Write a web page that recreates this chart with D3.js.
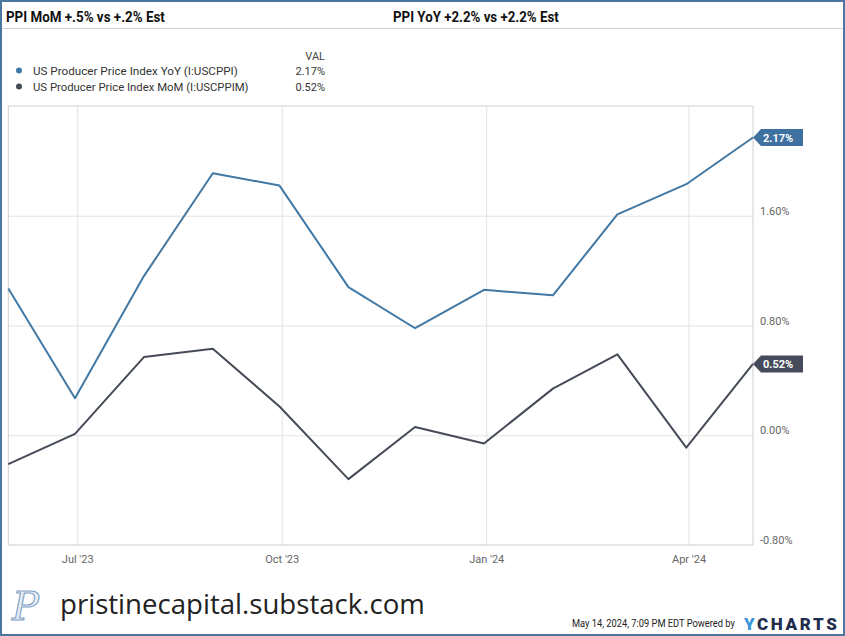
<!DOCTYPE html>
<html><head><meta charset="utf-8">
<script src="https://cdn.jsdelivr.net/npm/d3@7"></script>
<style>
html,body{margin:0;padding:0;background:#fff;}
svg{display:block;font-family:Roboto,"Noto Sans",sans-serif;}
</style></head>
<body>
<svg id="c" width="845" height="636"></svg>
<script>
// ---- data ----
const dates = ["2023-05-31","2023-06-30","2023-07-31","2023-08-31","2023-09-30","2023-10-31",
               "2023-11-30","2023-12-31","2024-01-31","2024-02-29","2024-03-31","2024-04-30"];
const yoyValues = [1.07, 0.27, 1.16, 1.91, 1.82, 1.08, 0.78, 1.06, 1.02, 1.61, 1.83, 2.17];
const momValues = [-0.21, 0.01, 0.57, 0.63, 0.21, -0.32, 0.06, -0.06, 0.34, 0.59, -0.09, 0.52];
const xTickDates = ["2023-07-01","2023-10-01","2024-01-01","2024-04-01"];
const xTickLabels = ["Jul '23","Oct '23","Jan '24","Apr '24"];
const yTicks = [-0.8, 0, 0.8, 1.6];
const yDomain = [-0.8, 2.4];
const seriesNames = ["US Producer Price Index YoY (I:USCPPI)","US Producer Price Index MoM (I:USCPPIM)"];
const titleLeft = "PPI MoM +.5% vs +.2% Est";
const titleRight = "PPI YoY +2.2% vs +2.2% Est";

const parse = d3.utcParse("%Y-%m-%d");
const dts = dates.map(parse);
const colors = ["#4178a4","#464b58"];
const flagColors = ["#3e70a0","#454b5b"];

const svg = d3.select("#c");
const L = 8.3, R = 753, T = 106, B = 545;

const x = d3.scaleUtc().domain(d3.extent(dts)).range([L, R]);
const y = d3.scaleLinear().domain(yDomain).range([B, T]);

// helper: squeeze a text horizontally to a target width via transform
function fitText(sel, x0, y0, w){
  const nat = sel.node().getComputedTextLength();
  sel.attr("x",0).attr("y",0)
     .attr("transform",`translate(${x0},${y0}) scale(${w/nat},1)`);
  return sel;
}

// outer frame
svg.append("rect").attr("x",1).attr("y",1).attr("width",843).attr("height",634)
  .attr("fill","#fff").attr("stroke","#4a76a0").attr("stroke-width",2);

// titles
fitText(svg.append("text").attr("font-size",14).attr("font-weight","bold")
  .attr("fill","#111").text(titleLeft), 6, 22, 159);
fitText(svg.append("text").attr("font-size",14).attr("font-weight","bold")
  .attr("fill","#111").text(titleRight), 393, 22, 166);
svg.append("line").attr("x1",2).attr("x2",843).attr("y1",28.5).attr("y2",28.5)
  .attr("stroke","#cfd3d8").attr("stroke-width",1);

// legend
svg.append("text").attr("x",325).attr("y",60).attr("text-anchor","end").attr("font-size",11)
  .attr("fill","#444").text("VAL");
const lastVals = [yoyValues[yoyValues.length-1], momValues[momValues.length-1]];
seriesNames.forEach((n,i)=>{
  const yy = 71 + i*16;
  svg.append("circle").attr("cx",19).attr("cy",yy-0.5).attr("r",3).attr("fill",colors[i]);
  fitText(svg.append("text").attr("font-size",11).attr("fill","#333").text(n), 33, yy+4, i===0?205:216);
  svg.append("text").attr("x",325).attr("y",yy+4).attr("text-anchor","end").attr("font-size",11)
    .attr("fill","#333").text(lastVals[i].toFixed(2)+"%");
});

// gridlines
const gy = svg.append("g").attr("transform",`translate(${L},0)`)
  .call(d3.axisLeft(y).tickValues(yTicks.filter(v=>v>yDomain[0])).tickSize(-(R-L)).tickFormat(""));
gy.select(".domain").remove();
gy.selectAll("line").attr("stroke","#e3e3e3");
const gx = svg.append("g").attr("transform",`translate(0,${B})`)
  .call(d3.axisBottom(x).tickValues(xTickDates.map(parse)).tickSize(-(B-T)).tickFormat(""));
gx.select(".domain").remove();
gx.selectAll("line").attr("stroke","#e3e3e3");

// plot border
svg.append("rect").attr("x",L).attr("y",T).attr("width",R-L).attr("height",B-T)
  .attr("fill","none").attr("stroke","#cfcfcf").attr("stroke-width",1);

// axes labels
const ya = svg.append("g").attr("transform",`translate(760,0)`)
  .call(d3.axisRight(y).tickValues(yTicks).tickSize(0).tickPadding(0).tickFormat(d=>d.toFixed(2)+"%"));
ya.select(".domain").remove();
ya.selectAll("text").attr("font-size",11).attr("fill","#666").attr("font-family","Roboto")
  .attr("dy",null).attr("y",-1.5);
const xa = svg.append("g").attr("transform",`translate(0,${B})`)
  .call(d3.axisBottom(x).tickValues(xTickDates.map(parse)).tickSize(0).tickPadding(10)
    .tickFormat((d,i)=>xTickLabels[i]));
xa.select(".domain").remove();
xa.selectAll("text").attr("font-size",11).attr("fill","#666").attr("font-family","Roboto");

// lines
const series = [yoyValues, momValues];
const line = d3.line().x(d=>x(d[0])).y(d=>y(d[1]));
series.forEach((vals,i)=>{
  svg.append("path").datum(dts.map((d,j)=>[d,vals[j]]))
    .attr("d",line).attr("fill","none").attr("stroke",colors[i]).attr("stroke-width",2)
    .attr("stroke-linejoin","round");
});

// flags
series.forEach((vals,i)=>{
  const v = vals[vals.length-1];
  const tx = x(dts[dts.length-1]), ty = y(v);
  const h = 8.5;
  svg.append("path").attr("d",`M${tx},${ty} L${tx+8},${ty-h} L${tx+50},${ty-h} L${tx+50},${ty+h} L${tx+8},${ty+h} Z`)
    .attr("fill",flagColors[i]);
  svg.append("text").attr("x",tx+10).attr("y",ty+4).attr("font-size",11).attr("font-weight","bold")
    .attr("fill","#fff").text(v.toFixed(2)+"%");
});

// footer
svg.append("text").attr("x",12).attr("y",620).attr("font-family","DejaVu Serif").attr("font-style","italic")
  .attr("font-size",40).attr("fill","#e6eef6").attr("stroke","#7f9fc2").attr("stroke-width",1.1).text("P");
fitText(svg.append("text").attr("font-size",27).attr("font-family","'Open Sans', Roboto")
  .attr("fill","#222").text("pristinecapital.substack.com"), 60, 614, 365);
fitText(svg.append("text").attr("font-size",11).attr("fill","#222")
  .text("May 14, 2024, 7:09 PM EDT Powered by"), 572, 627, 163);
const yc = svg.append("text").attr("x",744).attr("y",629.5).attr("font-size",17).attr("font-weight","900")
  .attr("letter-spacing",2.6);
yc.append("tspan").attr("fill","#3a96d8").text("Y");
yc.append("tspan").attr("fill","#1f2d4d").text("CHARTS");
</script>
</body></html>
